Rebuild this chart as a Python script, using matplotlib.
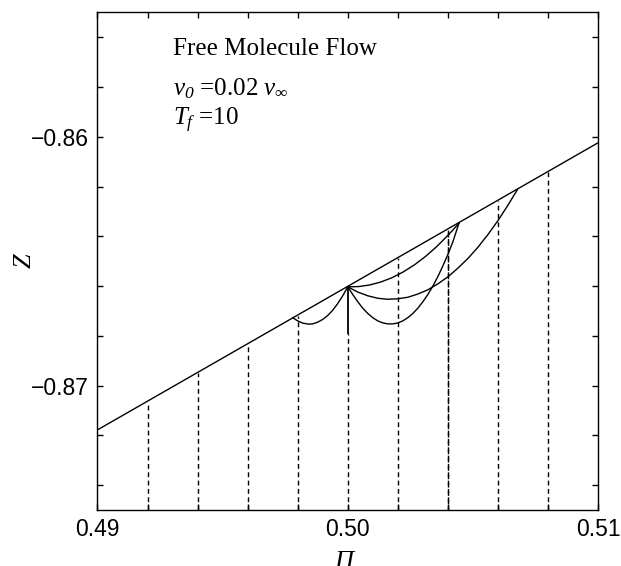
import numpy as np
import matplotlib.pyplot as plt
from matplotlib.ticker import FixedLocator, FixedFormatter

plt.rcParams['font.family'] = 'Liberation Sans'
plt.rcParams['mathtext.fontset'] = 'custom'
plt.rcParams['mathtext.rm'] = 'Liberation Serif'
plt.rcParams['mathtext.it'] = 'Liberation Serif:italic'
plt.rcParams['mathtext.sf'] = 'Liberation Serif:italic'  # italic digits in subscripts
plt.rcParams['mathtext.fallback'] = 'stix'

# straight boundary line
wall_pi = [0.49, 0.51]
wall_z = [-0.87178, -0.86024]

# trajectories leaving (0.5, -0.86603)
traj_a_pi = [0.5, 0.4998, 0.4996, 0.4994, 0.4992, 0.4990, 0.4988, 0.4986, 0.49845, 0.4982, 0.4980, 0.4978]
traj_a_z = [-0.86603, -0.86639, -0.86670, -0.86697, -0.86718, -0.86734, -0.86745, -0.86752,
            -0.86753, -0.86749, -0.86740, -0.86727]

traj_b_pi = [0.5, 0.5002, 0.5004, 0.5006, 0.5008, 0.5010, 0.5012, 0.5014, 0.5016, 0.5018,
             0.5020, 0.5022, 0.5024, 0.5026, 0.5028, 0.5030, 0.5032, 0.5034, 0.5036, 0.5038,
             0.5040, 0.5042, 0.50444]
traj_b_z = [-0.86603, -0.86634, -0.86663, -0.86689, -0.86710, -0.86727, -0.86740, -0.86748,
            -0.86752, -0.86752, -0.86748, -0.86740, -0.86727, -0.86710, -0.86689, -0.86663,
            -0.86634, -0.86600, -0.86562, -0.86519, -0.86473, -0.86422, -0.86348]

traj_c_pi = [0.5, 0.5004, 0.5008, 0.5012, 0.5016, 0.5020, 0.5024, 0.5028, 0.5032, 0.5036,
             0.5040, 0.5044, 0.5048, 0.5052, 0.5056, 0.5060, 0.5064, 0.50678]
traj_c_z = [-0.86603, -0.86624, -0.86639, -0.86649, -0.86653, -0.86651, -0.86645, -0.86632,
            -0.86615, -0.86591, -0.86563, -0.86528, -0.86489, -0.86444, -0.86393, -0.86337,
            -0.86275, -0.86212]

traj_d_pi = [0.5, 0.500444, 0.500888, 0.501332, 0.501776, 0.50222, 0.502664, 0.503108,
             0.503552, 0.503996, 0.50444]
traj_d_z = [-0.86603, -0.866019, -0.865953, -0.865833, -0.865659, -0.865429, -0.865146, -0.864808,
            -0.864415, -0.863968, -0.86348]

# short solid drop below the release point
drop_pi = [0.5, 0.5]
drop_z = [-0.86603, -0.86790]

# dashed guides from the bottom up to the wall
guide_pi = [0.492, 0.494, 0.496, 0.498, 0.500, 0.502, 0.504, 0.506, 0.508]
guide_top = [-0.87065, -0.86949, -0.86834, -0.86719, -0.86790, -0.86488, -0.86372, -0.86257, -0.86141]

xticks = [0.49, 0.492, 0.494, 0.496, 0.498, 0.50, 0.502, 0.504, 0.506, 0.508, 0.51]
xlabels = ['0.49', '', '', '', '', '0.50', '', '', '', '', '0.51']
yticks = [-0.874, -0.872, -0.87, -0.868, -0.866, -0.864, -0.862, -0.86, -0.858, -0.856]
ylabels = ['', '', '\u22120.87', '', '', '', '', '\u22120.86', '', '']

fig = plt.figure(figsize=(6.21, 5.66), dpi=100)
ax = fig.add_axes([0.157, 0.099, 0.806, 0.879])

ymin, ymax = -0.875, -0.855
lw = 1.0
ax.plot(wall_pi, wall_z, color='black', lw=lw)
for px, pz in [(traj_a_pi, traj_a_z), (traj_b_pi, traj_b_z), (traj_c_pi, traj_c_z), (traj_d_pi, traj_d_z)]:
    ax.plot(px, pz, color='black', lw=lw)
ax.plot(drop_pi, drop_z, color='black', lw=1.3)

for gx, gt in zip(guide_pi, guide_top):
    ax.plot([gx, gx], [ymin, gt], color='black', lw=lw, linestyle=(0, (3.5, 2.5)))
# the guide at 0.504 is drawn twice in the original
ax.plot([guide_pi[6], guide_pi[6]], [ymin, guide_top[6]], color='black', lw=lw,
        linestyle=(1.5, (3.5, 2.5)))

serif = 'Liberation Serif'
ax.text(0.49302, -0.85672, 'Free Molecule Flow', fontsize=18, family=serif)
ax.text(0.49302, -0.85832, r'$v_{\mathsf{0}}$ =0.02 $v_{\infty}$', fontsize=18, family=serif)
ax.text(0.49302, -0.85955, r'$T_f$ =10', fontsize=18, family=serif)

ax.set_xlim(0.49, 0.51)
ax.set_ylim(ymin, ymax)
ax.xaxis.set_major_locator(FixedLocator(xticks))
ax.xaxis.set_major_formatter(FixedFormatter(xlabels))
ax.yaxis.set_major_locator(FixedLocator(yticks))
ax.yaxis.set_major_formatter(FixedFormatter(ylabels))
ax.tick_params(direction='in', length=4, width=1, top=True, right=True,
               labelsize=16.5, pad=6)
for s in ax.spines.values():
    s.set_linewidth(1.0)

fig.text(0.040, 0.54, 'Z', fontsize=19, family=serif, style='italic',
         rotation=90, ha='center', va='center')
fig.text(0.553, -0.004, '\u03a0', fontsize=19, family=serif, style='italic',
         ha='center', va='baseline')

fig.savefig('out.png', dpi=100)
